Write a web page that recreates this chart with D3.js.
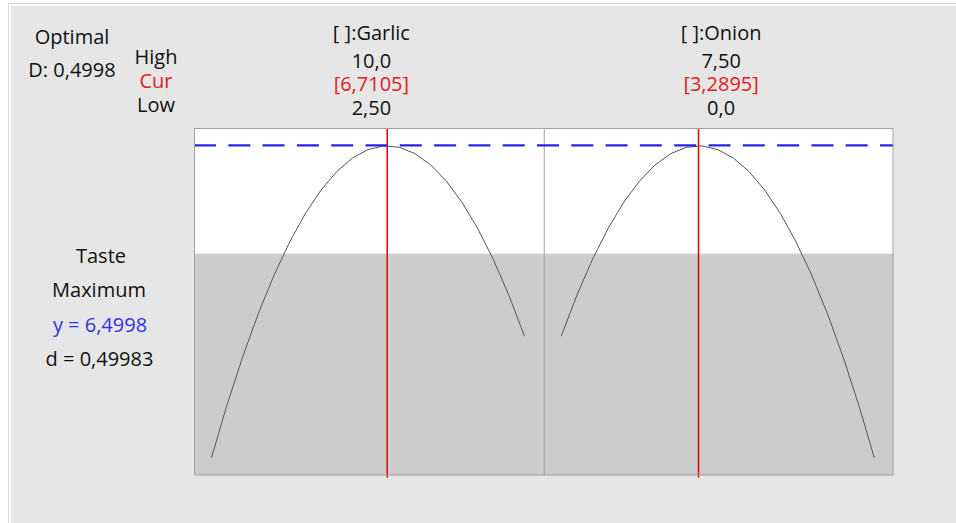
<!DOCTYPE html>
<html><head><meta charset="utf-8">
<script src="https://cdn.jsdelivr.net/npm/d3@7"></script>
<style>
body{margin:0;background:#fff}
svg{display:block}
text{font-family:"Open Sans",sans-serif;font-size:20px;fill:#111}
</style>
</head><body>
<svg id="c" width="956" height="523"></svg>
<script>
// ---- data ----
const factorNames = ["Garlic", "Onion"];
const factorLow = [2.5, 0.0];
const factorHigh = [10.0, 7.5];
const factorCur = [6.7105, 3.2895];
const highLabels = ["10,0", "7,50"];
const curLabels = ["[6,7105]", "[3,2895]"];
const lowLabels = ["2,50", "0,0"];

const garlicX = [2.5, 2.875, 3.25, 3.625, 4.0, 4.375, 4.75, 5.125, 5.5, 5.875, 6.25, 6.625, 7.0, 7.375, 7.75, 8.125, 8.5, 8.875, 9.25, 9.625, 10.0];
const garlicTaste = [1.020, 1.953, 2.798, 3.557, 4.229, 4.814, 5.312, 5.723, 6.047, 6.284, 6.434, 6.498, 6.474, 6.363, 6.166, 5.882, 5.510, 5.052, 4.507, 3.874, 3.155];
const onionX = [0.0, 0.375, 0.75, 1.125, 1.5, 1.875, 2.25, 2.625, 3.0, 3.375, 3.75, 4.125, 4.5, 4.875, 5.25, 5.625, 6.0, 6.375, 6.75, 7.125, 7.5];
const onionTaste = [3.155, 3.874, 4.507, 5.052, 5.510, 5.882, 6.166, 6.363, 6.474, 6.498, 6.434, 6.284, 6.047, 5.723, 5.312, 4.814, 4.229, 3.557, 2.798, 1.953, 1.020];

const optimalD = "0,4998";
const responseName = "Taste";
const goalName = "Maximum";
const yOpt = 6.4998;
const yOptLabel = "6,4998";
const dLabel = "0,49983";
const tasteLower = 4.6;

// ---- layout ----
const svg = d3.select("#c");
const W = 956, H = 523;
svg.append("rect").attr("x",0).attr("y",0).attr("width",W).attr("height",H).attr("fill","#fff");
svg.append("rect").attr("x",8.5).attr("y",3.5).attr("width",W).attr("height",H).attr("fill","none").attr("stroke","#dcdcdc");
svg.append("rect").attr("x",11).attr("y",6).attr("width",W).attr("height",H).attr("fill","#e6e6e6");

const plotL = 194, plotR = 893.5, plotT = 128.5, plotB = 475;
const plotH = plotB - plotT;
const panelW = (plotR - plotL) / factorNames.length;
const series = [
  {x: garlicX, y: garlicTaste},
  {x: onionX, y: onionTaste}
];

const yMin = d3.min(series, s => d3.min(s.y));
const yScale = d3.scaleLinear().domain([yMin, yOpt])
  .range([plotB - plotH*0.05, plotT + plotH*0.05]);

// plot background
svg.append("rect").attr("x",plotL).attr("y",plotT).attr("width",plotR-plotL).attr("height",plotH).attr("fill","#fff");
svg.append("rect").attr("x",plotL).attr("y",yScale(tasteLower)).attr("width",plotR-plotL)
  .attr("height",plotB - yScale(tasteLower)).attr("fill","#cccccc");
svg.append("line").attr("x1",plotL).attr("x2",plotR).attr("y1",yScale(tasteLower)).attr("y2",yScale(tasteLower))
  .attr("stroke","#dadada").attr("stroke-width",1);

const line = d3.line();
factorNames.forEach((name, i) => {
  const pl = plotL + i*panelW, pr = pl + panelW;
  const xs = d3.scaleLinear().domain([factorLow[i], factorHigh[i]])
    .range([pl + panelW*0.05, pr - panelW*0.055]);
  const pts = series[i].x.map((v, j) => [xs(v), yScale(series[i].y[j])]);
  svg.append("path").attr("d", line(pts)).attr("fill","none").attr("stroke","#555").attr("stroke-width",1);

  const cx = (pl + pr)/2 + 2.5;
  svg.append("text").attr("x",cx).attr("y",40).attr("text-anchor","middle").text("[ ]:" + name);
  svg.append("text").attr("x",cx).attr("y",68).attr("text-anchor","middle").text(highLabels[i]);
  svg.append("text").attr("x",cx).attr("y",91).attr("text-anchor","middle").style("fill","#e02020").text(curLabels[i]);
  svg.append("text").attr("x",cx).attr("y",115).attr("text-anchor","middle").text(lowLabels[i]);

  svg.append("line").attr("x1",xs(factorCur[i])).attr("x2",xs(factorCur[i]))
    .attr("y1",plotT).attr("y2",plotB+2.5).attr("stroke","#e00000").attr("stroke-width",1.5);
  if (i > 0) {
    svg.append("line").attr("x1",pl+0.5).attr("x2",pl+0.5).attr("y1",plotT).attr("y2",plotB)
      .attr("stroke","#a0a0a0").attr("stroke-width",1);
  }
});

// optimum dashed line
svg.append("line").attr("x1",plotL).attr("x2",plotR).attr("y1",yScale(yOpt)-0.5).attr("y2",yScale(yOpt)-0.5)
  .attr("stroke","#2424e6").attr("stroke-width",2.2).attr("stroke-dasharray","22,12.3");

// plot border
svg.append("rect").attr("x",plotL+0.5).attr("y",plotT).attr("width",plotR-plotL-1).attr("height",plotH)
  .attr("fill","none").attr("stroke","#a0a0a0").attr("stroke-width",1);

// left texts
svg.append("text").attr("x",72).attr("y",44).attr("text-anchor","middle").text("Optimal");
svg.append("text").attr("x",72).attr("y",77).attr("text-anchor","middle").text("D: " + optimalD);
svg.append("text").attr("x",156).attr("y",64).attr("text-anchor","middle").text("High");
svg.append("text").attr("x",156).attr("y",87.5).attr("text-anchor","middle").style("fill","#e02020").text("Cur");
svg.append("text").attr("x",156).attr("y",111.5).attr("text-anchor","middle").text("Low");

svg.append("text").attr("x",101).attr("y",263).attr("text-anchor","middle").text(responseName);
svg.append("text").attr("x",99).attr("y",297).attr("text-anchor","middle").text(goalName);
svg.append("text").attr("x",100).attr("y",332).attr("text-anchor","middle").style("fill","#3333e0").text("y = " + yOptLabel);
svg.append("text").attr("x",99.5).attr("y",366).attr("text-anchor","middle").text("d = " + dLabel);
</script>
</body></html>
